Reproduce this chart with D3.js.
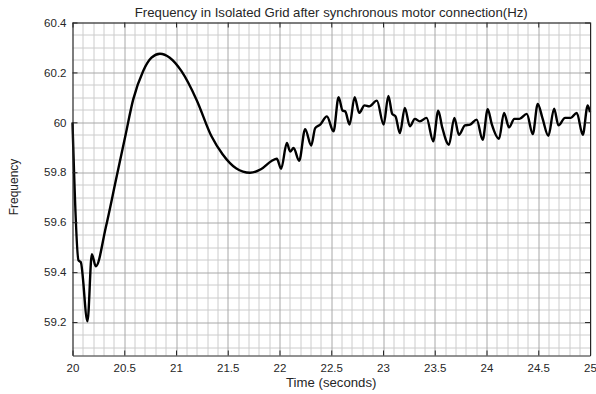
<!DOCTYPE html>
<html>
<head>
<meta charset="utf-8">
<script src="https://cdn.jsdelivr.net/npm/d3@7"></script>
<style>
  html, body { margin: 0; padding: 0; background: #ffffff; }
  svg { display: block; }
  text { font-family: "Liberation Sans", Arial, Helvetica, sans-serif; fill: #262626; }
</style>
</head>
<body>
<svg id="chart" width="596" height="394"></svg>
<script>
// Grid frequency samples (s, Hz)
const time = [
  20.000, 20.058, 20.080, 20.145, 20.187, 20.225, 20.322, 20.420, 20.510, 20.586,
  20.682, 20.763, 20.845, 20.940, 21.053, 21.198, 21.343, 21.450, 21.580, 21.715,
  21.820, 21.926, 21.974, 22.016, 22.071, 22.103, 22.136, 22.190, 22.248, 22.306,
  22.345, 22.393, 22.458, 22.522, 22.571, 22.610, 22.635, 22.677, 22.726, 22.770,
  22.822, 22.867, 22.941, 23.006, 23.052, 23.089, 23.121, 23.163, 23.211, 23.260,
  23.308, 23.356, 23.421, 23.485, 23.534, 23.572, 23.637, 23.689, 23.734, 23.792,
  23.841, 23.905, 23.963, 24.012, 24.050, 24.121, 24.169, 24.218, 24.269, 24.318,
  24.389, 24.447, 24.495, 24.540, 24.598, 24.653, 24.695, 24.759, 24.815, 24.872,
  24.930, 24.978, 25.000
];
const freq = [
  60.000, 59.447, 59.440, 59.203, 59.472, 59.423, 59.580, 59.770, 59.944, 60.091,
  60.205, 60.259, 60.275, 60.259, 60.205, 60.091, 59.944, 59.872, 59.816, 59.798,
  59.812, 59.846, 59.854, 59.814, 59.917, 59.883, 59.897, 59.846, 59.973, 59.907,
  59.977, 59.991, 60.024, 59.964, 60.101, 60.047, 60.044, 59.991, 60.101, 60.038,
  60.068, 60.064, 60.087, 59.991, 60.106, 60.034, 60.024, 59.957, 60.058, 59.984,
  60.014, 60.004, 60.018, 59.924, 60.047, 59.980, 59.910, 60.018, 59.950, 59.988,
  59.991, 60.011, 59.930, 60.053, 59.994, 59.934, 60.038, 59.980, 60.014, 60.014,
  60.034, 59.953, 60.074, 60.018, 59.946, 60.055, 59.988, 60.018, 60.018, 60.038,
  59.950, 60.068, 60.040
];

const xTicks = [20, 20.5, 21, 21.5, 22, 22.5, 23, 23.5, 24, 24.5, 25];
const xTickLabels = ["20", "20.5", "21", "21.5", "22", "22.5", "23", "23.5", "24", "24.5", "25"];
const yTicks = [59.2, 59.4, 59.6, 59.8, 60, 60.2, 60.4];
const yTickLabels = ["59.2", "59.4", "59.6", "59.8", "60", "60.2", "60.4"];
const xMinorStep = 0.1;
const yMinorStep = 0.05;

const titleText = "Frequency in Isolated Grid after synchronous motor connection(Hz)";
const xLabelText = "Time (seconds)";
const yLabelText = "Frequency";

const svg = d3.select("#chart");
const W = 596, H = 394;
const margin = { top: 22.5, right: 6, bottom: 38.5, left: 72.5 };
const w = W - margin.left - margin.right;
const h = H - margin.top - margin.bottom;

const x = d3.scaleLinear().domain([20, 25]).range([0, w]);
const y = d3.scaleLinear().domain([59.066, 60.4]).range([h, 0]);

const g = svg.append("g").attr("transform", `translate(${margin.left},${margin.top})`);

// minor grid
const xMinor = d3.range(0, 51).map(i => 20 + i * xMinorStep).filter(v => !xTicks.some(t => Math.abs(t - v) < 1e-6));
const yMinor = d3.range(0, 40).map(i => 59.1 + i * yMinorStep).filter(v => v < 60.4 - 1e-6 && !yTicks.some(t => Math.abs(t - v) < 1e-6));

const grid = g.append("g").attr("class", "grid");
grid.selectAll("line.xminor").data(xMinor).join("line")
  .attr("class", "xminor")
  .attr("x1", d => Math.round(x(d)) + 0.5).attr("x2", d => Math.round(x(d)) + 0.5)
  .attr("y1", 0).attr("y2", h)
  .attr("stroke", "#cccccc").attr("stroke-width", 1);
grid.selectAll("line.yminor").data(yMinor).join("line")
  .attr("class", "yminor")
  .attr("y1", d => Math.round(y(d)) + 0.5).attr("y2", d => Math.round(y(d)) + 0.5)
  .attr("x1", 0).attr("x2", w)
  .attr("stroke", "#cccccc").attr("stroke-width", 1);
grid.selectAll("line.xmajor").data(xTicks).join("line")
  .attr("class", "xmajor")
  .attr("x1", d => Math.round(x(d)) + 0.5).attr("x2", d => Math.round(x(d)) + 0.5)
  .attr("y1", 0).attr("y2", h)
  .attr("stroke", "#a8a8a8").attr("stroke-width", 1);
grid.selectAll("line.ymajor").data(yTicks).join("line")
  .attr("class", "ymajor")
  .attr("y1", d => Math.round(y(d)) + 0.5).attr("y2", d => Math.round(y(d)) + 0.5)
  .attr("x1", 0).attr("x2", w)
  .attr("stroke", "#a8a8a8").attr("stroke-width", 1);

// frequency trace
const pts = time.map((t, i) => [t, freq[i]]);
const line = d3.line().x(d => x(d[0])).y(d => y(d[1])).curve(d3.curveMonotoneX);
g.append("path")
  .datum(pts)
  .attr("d", line)
  .attr("fill", "none")
  .attr("stroke", "#000000")
  .attr("stroke-width", 2.4)
  .attr("stroke-linejoin", "round");

// axes with inward ticks on all four sides
const tickLen = 5;
const fmtX = (d, i) => xTickLabels[i];
const fmtY = (d, i) => yTickLabels[i];

const axBottom = g.append("g").attr("transform", `translate(0,${h})`)
  .call(d3.axisBottom(x).tickValues(xTicks).tickFormat(fmtX).tickSizeInner(-tickLen).tickSizeOuter(0).tickPadding(8));
const axTop = g.append("g")
  .call(d3.axisTop(x).tickValues(xTicks).tickFormat("").tickSizeInner(-tickLen).tickSizeOuter(0));
const axLeft = g.append("g")
  .call(d3.axisLeft(y).tickValues(yTicks).tickFormat(fmtY).tickSizeInner(-tickLen).tickSizeOuter(0).tickPadding(6));
const axRight = g.append("g").attr("transform", `translate(${w},0)`)
  .call(d3.axisRight(y).tickValues(yTicks).tickFormat("").tickSizeInner(-tickLen).tickSizeOuter(0));

[axBottom, axTop, axLeft, axRight].forEach(a => {
  a.select(".domain").attr("stroke", "#262626").attr("stroke-width", 1);
  a.selectAll(".tick line").attr("stroke", "#262626");
  a.selectAll("text")
    .attr("font-family", "'Liberation Sans', Arial, Helvetica, sans-serif")
    .attr("font-size", 11.5)
    .attr("fill", "#262626");
});

// titles
svg.append("text")
  .attr("x", margin.left + w / 2).attr("y", 16.5)
  .attr("text-anchor", "middle")
  .attr("font-size", 13.2)
  .text(titleText);

svg.append("text")
  .attr("x", margin.left + w / 2).attr("y", 387)
  .attr("text-anchor", "middle")
  .attr("font-size", 13.2)
  .text(xLabelText);

svg.append("text")
  .attr("transform", `translate(18,${margin.top + h / 2 - 2}) rotate(-90)`)
  .attr("text-anchor", "middle")
  .attr("font-size", 12)
  .text(yLabelText);
</script>
</body>
</html>
